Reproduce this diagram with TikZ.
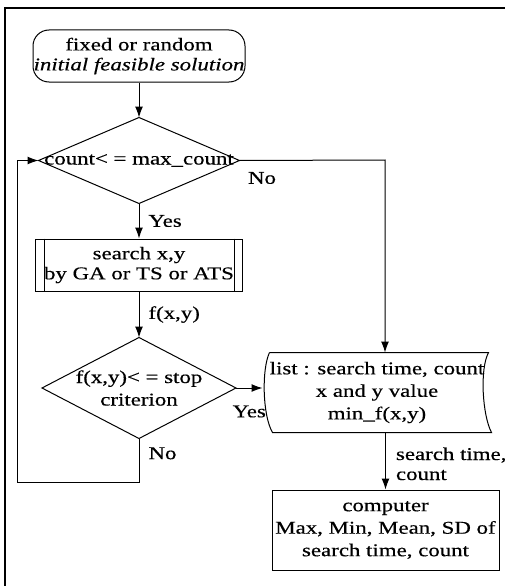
\documentclass[tikz,border=0pt]{standalone}
\usepackage{fontspec}
\setmainfont[FakeStretch=1.27,FakeBold=0.4]{Liberation Serif}
\usetikzlibrary{arrows.meta}

\begin{document}
\begin{tikzpicture}[x=1pt,y=-1pt,line width=1pt,
    >={Latex[length=11pt,width=8pt]},
    font=\fontsize{18}{22.5}\selectfont]

      \useasboundingbox (0,0) rectangle (505,586);
      \draw[line width=1.7pt] (5,586) -- (5,8) -- (505,8);

      \begin{scope}[every node/.style={align=center, inner sep=0pt}]
        \node[draw, rounded corners=16pt, minimum width=212pt, minimum height=52pt] (start) at (139,56)
          {fixed or random\\[-2.5pt]\textit{initial feasible solution}};
        \node[minimum width=200pt, minimum height=85pt] (cnt) at (139,160.5) {count< = max\_count};
        \node[draw, minimum width=207pt, minimum height=52pt] (search) at (139,265)
          {search x,y\\[-2.5pt]by GA or TS or ATS};
        \node[minimum width=193pt, minimum height=100pt] (stop) at (139,388) {f(x,y)< = stop\\criterion};
        \node[minimum width=228pt, minimum height=79pt] (list) at (377,392.5)
          {list : search time, count\\x and y value\\min\_f(x,y)};
        \node[draw, minimum width=227pt, minimum height=80pt] (comp) at (385.5,530)
          {computer\\Max, Min, Mean, SD of\\search time, count};
      \end{scope}

      % outlines of the decision and data boxes
      \draw (cnt.north) -- (cnt.east) -- (cnt.south) -- (cnt.west) -- cycle;
      \draw (stop.north) -- (stop.east) -- (stop.south) -- (stop.west) -- cycle;
      \draw ([xshift=9pt]search.north west) -- ([xshift=9pt]search.south west);
      \draw ([xshift=-9pt]search.north east) -- ([xshift=-9pt]search.south east);
      \draw ([xshift=7pt]list.north west) -- ([xshift=-3pt]list.north east)
        .. controls +(-9,17) and +(-9,-17) .. (list.south east)
        -- ([xshift=10pt]list.south west)
        .. controls +(-10,-17) and +(-8,17) .. ([xshift=7pt]list.north west);

      \coordinate (turn) at (385,160);
      \coordinate (back) at (17,482);

      \begin{scope}[every node/.style={inner sep=0pt}]
        \draw[->] (start.south) -- (cnt.north);
        \draw[->] (cnt.south) -- node[right=9pt] {Yes} (search.north);
        \draw[->] (search.south) -- node[right=9pt] {f(x,y)} (stop.north);
        \draw[->] (stop.east) -- node[below=17pt] {Yes} (stop.east -| list.west);
        \draw[->] (cnt.east) -- (turn) -- (turn |- list.north);
        \draw[->] (list.south -| comp.north) -- node[right=10pt, align=left, pos=0.55] {search time,\\[-2.5pt]count} (comp.north);
        \draw[->] (stop.south) |- node[right=9pt, pos=0.17] {No} (back) |- (cnt.west);
        \node[anchor=north west] (no1) at ([shift={(8,11)}]cnt.east) {No};
      \end{scope}

    \end{tikzpicture}
\end{document}
